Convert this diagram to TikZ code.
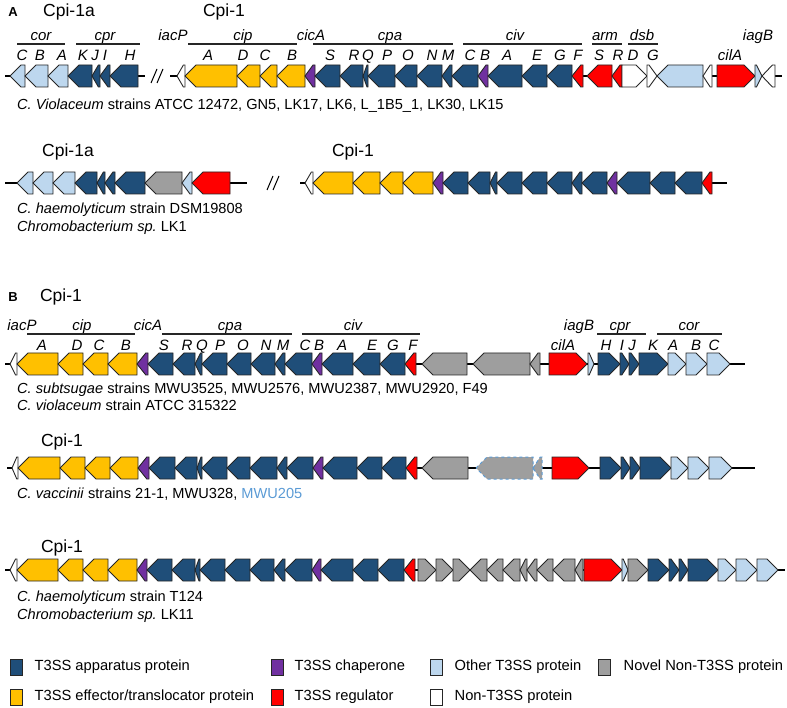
\documentclass[tikz,border=0pt]{standalone}
\usepackage{fontspec}
\setmainfont{Liberation Sans}
\usepackage{tikz}
\usetikzlibrary{positioning}
\frenchspacing

\definecolor{appblue}{HTML}{1F4E79}
\definecolor{effyellow}{HTML}{FFC000}
\definecolor{chappurple}{HTML}{7030A0}
\definecolor{othblue}{HTML}{BDD7EE}
\definecolor{regred}{HTML}{FF0000}
\definecolor{novelgray}{HTML}{9E9E9E}
\definecolor{mwublue}{HTML}{5B9BD5}

% one gene arrow: left x, right x, fill colour, row y
\newcommand{\geneL}[4]{%
  \pgfmathsetmacro{\ghead}{min(11,0.8*(#2-#1))}%
  \filldraw[gene, fill=#3] (#1,#4) -- ({#1+\ghead},{#4-11}) -- (#2,{#4-11}) -- (#2,{#4+11}) -- ({#1+\ghead},{#4+11}) -- cycle;}
\newcommand{\geneR}[4]{%
  \pgfmathsetmacro{\ghead}{min(11,0.8*(#2-#1))}%
  \filldraw[gene, fill=#3] (#2,#4) -- ({#2-\ghead},{#4-11}) -- (#1,{#4-11}) -- (#1,{#4+11}) -- ({#2-\ghead},{#4+11}) -- cycle;}

\begin{document}
\begin{tikzpicture}[
  x=1pt, y=-1pt,
  gene/.style={draw=black!85, line width=0.9pt, line join=miter},
  backbone/.style={line width=2.2pt, black},
  oline/.style={line width=1.2pt, black!85},
  brk/.style={line width=1pt, black},
  title/.style={font=\fontsize{17.5}{20}\selectfont, text height=12.5pt, text depth=3.5pt},
  panel/.style={font=\fontsize{13}{15}\selectfont\bfseries},
  opr/.style={font=\fontsize{15}{17}\selectfont\itshape, inner sep=0pt, text height=10.5pt, text depth=3pt},
  strain/.style={font=\fontsize{14.6}{17}\selectfont, anchor=west, inner sep=0pt, text height=10.5pt, text depth=3pt},
  legbox/.style={draw=black!85, line width=0.9pt, minimum width=12pt, minimum height=16pt, inner sep=0pt},
  legtext/.style={font=\fontsize{14.7}{17}\selectfont, inner sep=0pt, text height=10.5pt, text depth=3pt}
]
\useasboundingbox (0,0) rectangle (787,708);

% ---------- panel A, first row
\node[panel] (panA) at (13,12) {A};
\node[title] (tA1a) at (69,12) {Cpi-1a};
\node[title] (tA1b) at (224,12) {Cpi-1};

\draw[backbone] (5,76) -- (145,76);
\draw[backbone] (170,76) -- (782,76);
\draw[brk] (151,83) -- (157,69);
\draw[brk] (157,83) -- (163,69);

\foreach \a/\b/\c in {10/25/othblue,25/48/othblue,48/68/othblue,68/92/appblue,92/100/appblue,100/110/appblue,110/138/appblue,
  177/185/white,185/237/effyellow,237/260/effyellow,260/277/effyellow,277/305/effyellow,305/315/chappurple,
  315/340/appblue,340/363/appblue,363/368/appblue,368/395/appblue,395/417/appblue,417/442/appblue,442/452/appblue,
  452/478/appblue,478/488/chappurple,488/522/appblue,522/547/appblue,547/572/appblue,572/583/regred,
  587/612/regred,612/622/regred,657/703/othblue,703/712/white,762/775/white}
  \geneL{\a}{\b}{\c}{76};
\foreach \a/\b/\c in {622/647/white,647/657/white,717/755/regred,755/762/othblue}
  \geneR{\a}{\b}{\c}{76};

\foreach \x/\t in {41/cor,105/cpr,173/iacP,243/cip,311/cicA,390/cpa,515/civ,605/arm,642/dsb,758/iagB}
  \node[opr] at (\x,37) {\t};
\foreach \l/\r in {17/65,76/140,188/297,313/453,463/582,592/622,628/658}
  \draw[oline] (\l,44) -- (\r,44);
\foreach \x/\t in {22/C,40/B,62/A,83/K,95/J,105/I,130/H,208/A,243/D,265/C,292/B,330/S,354/R,368/Q,387/P,
  408/O,432/N,448/M,470/C,485/B,507/A,537/E,560/G,578/F,599/S,618/R,633/D,653/G,730/cilA}
  \node[opr] at (\x,57) {\t};

\node[strain] (sA1) at (17,106) {\textit{C. Violaceum} strains ATCC 12472, GN5, LK17, LK6, L\_1B5\_1, LK30, LK15};

% ---------- panel A, second row
\node[title] (tA2a) at (68,152) {Cpi-1a};
\node[title] (tA2b) at (353,152) {Cpi-1};

\draw[backbone] (5,183) -- (247,183);
\draw[backbone] (300,183) -- (727,183);
\draw[brk] (267,190) -- (273,176);
\draw[brk] (273,190) -- (279,176);

\foreach \a/\b/\c in {17/33/othblue,33/53/othblue,53/75/othblue,75/97/appblue,97/105/appblue,105/115/appblue,115/145/appblue,
  145/182/novelgray,182/192/othblue,192/230/regred,
  305/313/white,313/353/effyellow,353/380/effyellow,380/403/effyellow,403/433/effyellow,433/443/chappurple,
  443/468/appblue,468/490/appblue,490/497/appblue,497/522/appblue,522/547/appblue,547/572/appblue,572/582/appblue,
  582/607/appblue,607/617/chappurple,617/650/appblue,650/675/appblue,675/702/appblue,702/712/regred}
  \geneL{\a}{\b}{\c}{183};

\node[strain] (sA2a) at (17,210) {\textit{C. haemolyticum} strain DSM19808};
\node[strain] (sA2b) at (17,228) {\textit{Chromobacterium sp.} LK1};

% ---------- panel B, first row
\node[panel] (panB) at (13,297) {B};
\node[title] (tB1) at (61,297) {Cpi-1};

\draw[backbone] (5,364) -- (745,364);
\foreach \a/\b/\c in {10/17/white,17/58/effyellow,58/83/effyellow,83/108/effyellow,108/137/effyellow,137/148/chappurple,
  148/173/appblue,173/195/appblue,195/202/appblue,202/227/appblue,227/251/appblue,251/275/appblue,275/285/appblue,
  285/312/appblue,312/322/chappurple,322/353/appblue,353/380/appblue,380/405/appblue,405/416/regred,
  422/467/novelgray,473/530/novelgray,530/540/novelgray}
  \geneL{\a}{\b}{\c}{364};
\foreach \a/\b/\c in {549/587/regred,588/594/othblue,598/620/appblue,620/629/appblue,629/639/appblue,639/668/appblue,
  668/686/othblue,686/707/othblue,707/730/othblue}
  \geneR{\a}{\b}{\c}{364};

\foreach \x/\t in {22/iacP,82/cip,148/cicA,230/cpa,353/civ,579/iagB,620/cpr,689/cor}
  \node[opr] at (\x,327) {\t};
\foreach \l/\r in {27/135,162/292,302/420,597/646,657/722}
  \draw[oline] (\l,334) -- (\r,334);
\foreach \x/\t in {42/A,77/D,99/C,126/B,164/S,187/R,202/Q,220/P,243/O,266/N,283/M,305/C,319/B,342/A,372/E,
  393/G,413/F,563/cilA,606/H,622/I,632/J,653/K,673/A,696/B,714/C}
  \node[opr] at (\x,347) {\t};

\node[strain] (sB1a) at (17,390) {\textit{C. subtsugae} strains MWU3525, MWU2576, MWU2387, MWU2920, F49};
\node[strain] (sB1b) at (17,407) {\textit{C. violaceum} strain ATCC 315322};

% ---------- panel B, second row
\node[title] (tB2) at (62,442) {Cpi-1};

\draw[backbone] (7,468) -- (755,468);
\foreach \a/\b/\c in {12/18/white,18/60/effyellow,60/85/effyellow,85/110/effyellow,110/138/effyellow,138/149/chappurple,
  149/175/appblue,175/197/appblue,197/202/appblue,202/227/appblue,227/250/appblue,250/277/appblue,277/287/appblue,
  287/313/appblue,313/323/chappurple,323/357/appblue,357/382/appblue,382/406/appblue,406/417/regred,422/468/novelgray}
  \geneL{\a}{\b}{\c}{468};
\begin{scope}[gene/.append style={draw=mwublue, dashed, line width=1pt}]
  \geneL{476}{533}{novelgray}{468}
  \geneL{533}{542}{novelgray}{468}
\end{scope}
\foreach \a/\b/\c in {552/589/regred,600/621/appblue,621/630/appblue,630/640/appblue,640/671/appblue,
  671/688/othblue,688/709/othblue,709/732/othblue}
  \geneR{\a}{\b}{\c}{468};

\node[strain] (sB2) at (17,495) {\textit{C. vaccinii} strains 21-1, MWU328, \textcolor{mwublue}{MWU205}};

% ---------- panel B, third row
\node[title] (tB3) at (62,548) {Cpi-1};

\draw[backbone] (5,570) -- (785,570);
\foreach \a/\b/\c in {10/17/white,17/58/effyellow,58/83/effyellow,83/108/effyellow,108/137/effyellow,137/147/chappurple,
  147/172/appblue,172/195/appblue,195/200/appblue,200/225/appblue,225/250/appblue,250/274/appblue,274/285/appblue,
  285/312/appblue,312/321/chappurple,321/353/appblue,353/378/appblue,378/404/appblue,404/415/regred,
  470/487/novelgray,487/503/novelgray,503/520/novelgray,520/527/novelgray,527/537/novelgray,537/553/novelgray,
  553/575/novelgray,575/583/novelgray}
  \geneL{\a}{\b}{\c}{570};
\foreach \a/\b/\c in {418/436/novelgray,436/453/novelgray,453/470/novelgray,584/622/regred,622/628/othblue,
  628/648/novelgray,648/669/appblue,669/679/appblue,679/688/appblue,688/718/appblue,718/736/othblue,
  736/757/othblue,757/778/othblue}
  \geneR{\a}{\b}{\c}{570};

\node[strain] (sB3a) at (17,598) {\textit{C. haemolyticum} strain T124};
\node[strain] (sB3b) at (17,616) {\textit{Chromobacterium sp.} LK11};

% ---------- legend
\node[legbox, fill=appblue] (lg1) at (16,667) {};
\node[legtext, right=12pt of lg1] {T3SS apparatus protein};
\node[legbox, fill=chappurple] (lg2) at (277,667) {};
\node[legtext, right=11pt of lg2] {T3SS chaperone};
\node[legbox, fill=othblue] (lg3) at (436,667) {};
\node[legtext, right=12pt of lg3] {Other T3SS protein};
\node[legbox, fill=novelgray] (lg4) at (604,667) {};
\node[legtext, right=13pt of lg4] {Novel Non-T3SS protein};
\node[legbox, fill=effyellow] (lg5) at (16,697) {};
\node[legtext, right=12pt of lg5] {T3SS effector/translocator protein};
\node[legbox, fill=regred] (lg6) at (277,697) {};
\node[legtext, right=11pt of lg6] {T3SS regulator};
\node[legbox, fill=white] (lg7) at (436,697) {};
\node[legtext, right=12pt of lg7] {Non-T3SS protein};
\end{tikzpicture}
\end{document}
